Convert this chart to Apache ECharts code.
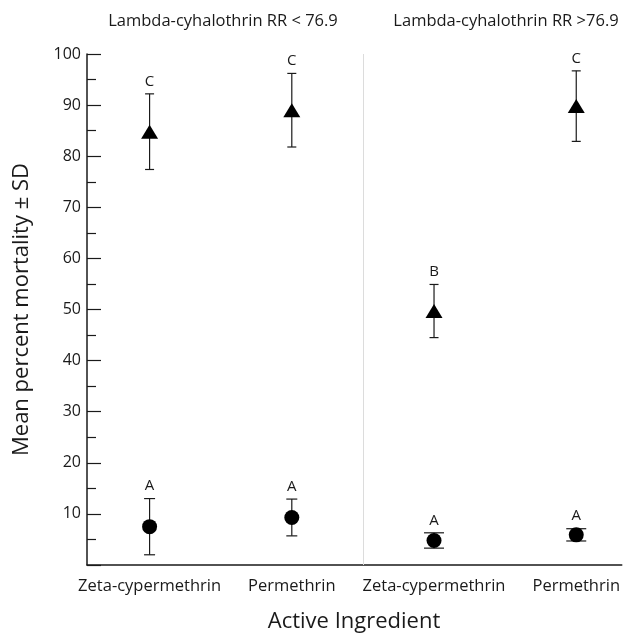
<!DOCTYPE html>
<html>
<head>
<meta charset="utf-8">
<script src="https://cdn.jsdelivr.net/npm/echarts@6/dist/echarts.min.js"></script>
<style>
  html, body { margin: 0; padding: 0; background: #fff; }
  #chart { width: 623px; height: 637px; }
</style>
</head>
<body>
<div id="chart"></div>
<script>
// ---- data ----
const categories = ['Zeta-cypermethrin', 'Permethrin', 'Zeta-cypermethrin', 'Permethrin'];
const groupTitles = ['Lambda-cyhalothrin RR < 76.9', 'Lambda-cyhalothrin RR >76.9'];
const yTickLabels = ['10', '20', '30', '40', '50', '60', '70', '80', '90', '100'];

const triangleMean = [84.8, 89.0, 49.7, 89.8];
const triangleSD   = [7.4, 7.2, 5.2, 6.9];
const triangleLetters = ['C', 'C', 'B', 'C'];

const circleMean = [7.5, 9.3, 4.8, 5.9];
const circleSD   = [5.5, 3.6, 1.5, 1.2];
const circleLetters = ['A', 'A', 'A', 'A'];

// ---- styling ----
const FONT = '"Open Sans", "Noto Sans", sans-serif';
const INK = '#1a1a1a';
const triangleCapW = [9, 9, 9, 9];
const circleCapW = [11, 11, 20, 20];
const catIdx = categories.map((c, i) => i);

function errorSeries(mean, sd, letters, capW) {
  return {
    type: 'custom',
    z: 1,
    data: catIdx.map(i => [i, mean[i] - sd[i], mean[i] + sd[i]]),
    renderItem: function (params, api) {
      const x = api.value(0);
      const top = api.coord([x, api.value(2)]);
      const bot = api.coord([x, api.value(1)]);
      const hw = capW[params.dataIndex] / 2;
      const st = { stroke: INK, lineWidth: 1.2 };
      return {
        type: 'group',
        children: [
          { type: 'line', shape: { x1: top[0], y1: top[1], x2: bot[0], y2: bot[1] }, style: st },
          { type: 'line', shape: { x1: top[0] - hw, y1: top[1], x2: top[0] + hw, y2: top[1] }, style: st },
          { type: 'line', shape: { x1: bot[0] - hw, y1: bot[1], x2: bot[0] + hw, y2: bot[1] }, style: st },
          { type: 'text', style: {
              text: letters[params.dataIndex], x: top[0], y: top[1] - 5,
              textAlign: 'center', textVerticalAlign: 'bottom', align: 'center', verticalAlign: 'bottom',
              font: '15px ' + FONT, fill: INK } }
        ]
      };
    }
  };
}

const chart = echarts.init(document.getElementById('chart'));
chart.setOption({
  animation: false,
  backgroundColor: '#fff',
  title: [
    { text: groupTitles[0], left: 218, top: 8, textAlign: 'center',
      textStyle: { fontFamily: FONT, fontSize: 16.5, fontWeight: 'normal', color: INK } },
    { text: groupTitles[1], left: 501, top: 8, textAlign: 'center',
      textStyle: { fontFamily: FONT, fontSize: 16.5, fontWeight: 'normal', color: INK } },
    { text: 'Active Ingredient', left: 349, top: 606, textAlign: 'center',
      textStyle: { fontFamily: FONT, fontSize: 22, fontWeight: 'normal', color: INK } }
  ],
  grid: { left: 87, top: 54, right: 0, bottom: 72 },
  xAxis: {
    type: 'value',
    min: -0.44, max: 3.32,
    axisLine: { show: true, onZero: false, lineStyle: { color: INK, width: 1.5 } },
    axisTick: { show: false },
    splitLine: { show: false },
    axisLabel: {
      customValues: catIdx,
      fontFamily: FONT, fontSize: 16.5, color: INK, margin: 13,
      formatter: function (v) { return categories[Math.round(v)] || ''; }
    }
  },
  yAxis: {
    type: 'value',
    min: 0, max: 100, interval: 10,
    name: 'Mean percent mortality ± SD',
    nameLocation: 'middle',
    nameGap: 54,
    nameTextStyle: { fontFamily: FONT, fontSize: 22, color: INK },
    axisLine: { show: true, onZero: false, lineStyle: { color: INK, width: 1.5 } },
    axisTick: { show: true, inside: true, length: 14, lineStyle: { color: INK, width: 1.2 } },
    minorTick: { show: true, splitNumber: 2, length: 9, lineStyle: { color: INK, width: 1.2 } },
    splitLine: { show: false },
    axisLabel: {
      fontFamily: FONT, fontSize: 16, color: INK, margin: 6,
      formatter: function (v) { return yTickLabels.indexOf(String(v)) >= 0 ? String(v) : ''; }
    }
  },
  series: [
    errorSeries(triangleMean, triangleSD, triangleLetters, triangleCapW),
    errorSeries(circleMean, circleSD, circleLetters, circleCapW),
    { type: 'scatter', z: 3, symbol: 'triangle', symbolSize: [17, 14],
      itemStyle: { color: '#000', opacity: 1 },
      data: catIdx.map(i => [i, triangleMean[i]]),
      markLine: {
        silent: true, symbol: 'none', label: { show: false },
        lineStyle: { color: '#dcdcdc', width: 1, type: 'solid' },
        data: [{ xAxis: (catIdx[1] + catIdx[2]) / 2 }]
      } },
    { type: 'scatter', z: 3, symbol: 'circle', symbolSize: 15,
      itemStyle: { color: '#000', opacity: 1 },
      data: catIdx.map(i => [i, circleMean[i]]) }
  ]
});
</script>
</body>
</html>
